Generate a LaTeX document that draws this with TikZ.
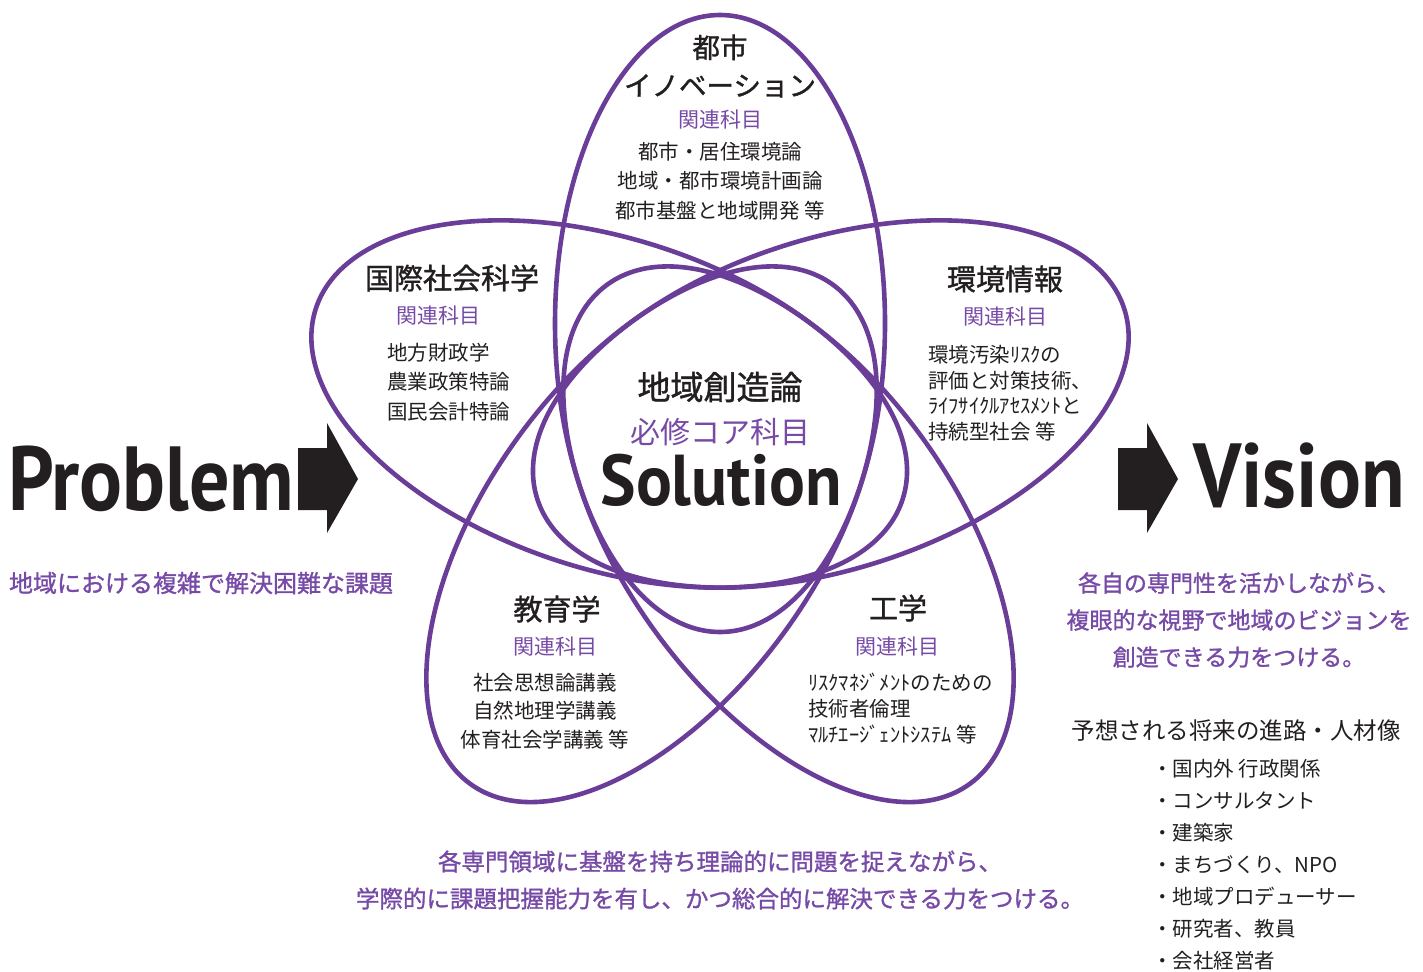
\documentclass[tikz,border=0pt]{standalone}
\usepackage{fontspec}
\setmainfont{Noto Sans CJK JP}
\newfontfamily\medium[FakeBold=1.2]{Noto Sans CJK JP}
\newfontfamily\latinfont[FakeStretch=0.88]{PT Sans}
\newfontfamily\latinwide[FakeStretch=0.93]{PT Sans}
\definecolor{petal}{RGB}{106,62,152}
\definecolor{purpletext}{RGB}{118,74,166}
\definecolor{ink}{RGB}{35,31,32}

\begin{document}
\begin{tikzpicture}[x=1pt,y=-1pt,
  petalline/.style={draw=petal,line width=4.6pt},
  fieldtitle/.style={text=ink,inner sep=0pt,font=\medium\fontsize{29}{38}\selectfont},
  relsubj/.style={text=purpletext,inner sep=0pt,font=\fontsize{21}{25}\selectfont},
  courses/.style={text=ink,inner sep=0pt,font=\fontsize{20.5}{29.5}\selectfont},
  purplenote/.style={text=purpletext,inner sep=0pt,font=\medium\fontsize{23.5}{37}\selectfont},
  bigword/.style={text=ink,inner sep=0pt,font=\latinfont\bfseries\fontsize{91}{100}\selectfont}]
\useasboundingbox (0,0) rectangle (1423,971);

% five petals
\coordinate (ctr) at (720,440);
\foreach \ang in {18,90,162,234,306}
  \draw[petalline,shift={(ctr)},rotate=\ang] (116.5pt,0pt) ellipse [x radius=308.5pt,y radius=165pt];

% petal texts
\node[fieldtitle,align=center,font=\medium\fontsize{27.5}{38}\selectfont] (toptitle) at (720,66) {都市\\イノベーション};
\node[relsubj] (toprel) at (720,120) {関連科目};
\node[courses,align=center] (topcourses) at (720,181)
  {都市・居住環境論\\地域・都市環境計画論\\都市基盤と地域開発 等};

\node[fieldtitle] (lefttitle) at (452,278) {国際社会科学};
\node[relsubj] (leftrel) at (438,316) {関連科目};
\node[courses,align=left,anchor=west] (leftcourses) at (387,382)
  {地方財政学\\農業政策特論\\国民会計特論};

\node[fieldtitle] (righttitle) at (1005,279) {環境情報};
\node[relsubj] (rightrel) at (1005,317) {関連科目};
\node[courses,align=left,anchor=west,font=\fontsize{20.5}{25.5}\selectfont] (rightcourses) at (928,393)
  {環境汚染ﾘｽｸの\\評価と対策技術、\\ﾗｲﾌｻｲｸﾙｱｾｽﾒﾝﾄと\\持続型社会 等};

\node[fieldtitle] (edutitle) at (557,609) {教育学};
\node[relsubj] (edurel) at (555,647) {関連科目};
\node[courses,align=center,font=\fontsize{20.5}{28.5}\selectfont] (educourses) at (545,711)
  {社会思想論講義\\自然地理学講義\\体育社会学講義 等};

\node[fieldtitle] (engtitle) at (898,608) {工学};
\node[relsubj] (engrel) at (897,647) {関連科目};
\node[courses,align=left,anchor=west,font=\fontsize{20.5}{26}\selectfont] (engcourses) at (808,709)
  {ﾘｽｸﾏﾈｼﾞﾒﾝﾄのための\\技術者倫理\\ﾏﾙﾁｴｰｼﾞｪﾝﾄｼｽﾃﾑ 等};

% core
\node[text=ink,inner sep=0pt,font=\medium\fontsize{33}{38}\selectfont] (coretitle) at (720,387) {地域創造論};
\node[text=purpletext,inner sep=0pt,font=\fontsize{30}{36}\selectfont] (corerel) at (720,432) {必修コア科目};
\node[text=ink,inner sep=0pt,anchor=base,font=\latinwide\bfseries\fontsize{72}{80}\selectfont] (solution) at (721,505) {Solution};

% problem -> vision
\node[bigword,anchor=base west] (problem) at (8,510) {Problem};
\node[bigword,anchor=base west] (vision) at (1193,507) {Vision};
\foreach \xo in {0,820}
  \fill[ink,xshift=\xo pt] (298,448) -- (327,448) -- (327,423) -- (358,479)
    -- (327,533) -- (327,510) -- (298,510) -- cycle;

\node[purplenote,font=\medium\fontsize{24}{37}\selectfont] (problemnote) at (201,583) {地域における複雑で解決困難な課題};
\node[purplenote,align=center,font=\medium\fontsize{23}{37}\selectfont] (visionnote) at (1239,620)
  {各自の専門性を活かしながら、\\複眼的な視野で地域のビジョンを\\創造できる力をつける。};
\node[purplenote,align=center] (corenote) at (720,880)
  {各専門領域に基盤を持ち理論的に問題を捉えながら、\\学際的に課題把握能力を有し、かつ総合的に解決できる力をつける。};

% careers
\node[text=ink,inner sep=0pt,font=\fontsize{23.5}{28}\selectfont] (careerhead) at (1236,731) {予想される将来の進路・人材像};
\node[courses,align=left,anchor=west,font=\fontsize{20.5}{32}\selectfont] (careerlist) at (1152,865)
  {・国内外 行政関係\\・コンサルタント\\・建築家\\・まちづくり、NPO\\・地域プロデューサー\\・研究者、教員\\・会社経営者};
\end{tikzpicture}
\end{document}
